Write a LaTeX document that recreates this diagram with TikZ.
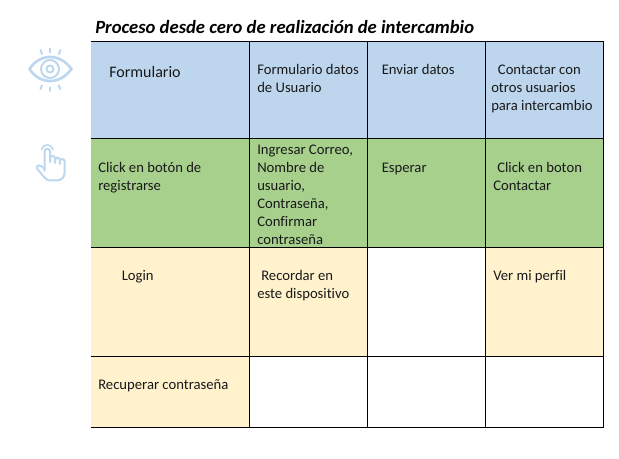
\documentclass[tikz,border=0pt]{standalone}
\usepackage{fontspec}
\setmainfont{Carlito}[Ligatures=NoCommon]
\definecolor{cellblue}{RGB}{189, 214, 238}
\definecolor{cellgreen}{RGB}{168, 208, 141}
\definecolor{cellcream}{RGB}{255, 242, 204}
\definecolor{iconblue}{RGB}{189, 215, 238}
\tikzset{
    celltext/.style={anchor=base west, inner sep=0pt, align=left, text=black!90,
        font=\fontsize{11pt}{13.5pt}\selectfont},
    icon/.style={draw=iconblue, line width=1.5pt, line cap=round, line join=round},
}
\begin{document}
\begin{tikzpicture}[x=0.75pt, y=-0.75pt]
    \useasboundingbox (0.0, 0.0) rectangle (619.0, 459.0);
    % cell backgrounds
    \fill[cellblue]   ( 91.0,  41.5) rectangle (603.5, 139.0);
    \fill[cellgreen]  ( 91.0, 139.0) rectangle (603.5, 247.5);
    \fill[cellcream]  ( 91.0, 247.5) rectangle (367.5, 356.5);
    \fill[cellcream]  (485.5, 247.5) rectangle (603.5, 356.5);
    \fill[cellcream]  ( 91.0, 356.5) rectangle (249.5, 427.5);
    % rules
    \foreach \ypos in {41.5, 139.0, 247.5, 356.5, 427.5}
        \draw[black, line width=0.75pt] (91.0, \ypos) -- (603.5, \ypos);
    \foreach \xpos in {249.5, 367.5, 485.5, 603.5}
        \draw[black, line width=0.75pt] (\xpos, 41.5) -- (\xpos, 427.5);
    % title
    \node[anchor=base west, inner sep=0pt, font=\fontsize{14pt}{16pt}\selectfont\bfseries\itshape] (title) at (95.0, 33.5)
        {Proceso desde cero de realización de intercambio};
    % row one
    \node[celltext, font=\fontsize{12pt}{14pt}\selectfont] (formulario) at (109.0, 77.5) {Formulario};
    \node[celltext] (datos)      at (257.0, 93.0) {Formulario datos\\de Usuario};
    \node[celltext] (enviar)     at (381.5, 75.0) {Enviar datos};
    \node[celltext] (contactar)  at (491.0, 111.0) {\hspace*{5pt}Contactar con\\otros usuarios\\para intercambio};
    % row two
    \node[celltext] (click)      at ( 98.0, 191.0) {Click en botón de\\registrarse};
    \node[celltext] (ingresar)   at (257.0, 245.0) {Ingresar Correo,\\Nombre de\\usuario,\\Contraseña,\\Confirmar\\contraseña};
    \node[celltext] (esperar)    at (381.5, 173.0) {Esperar};
    \node[celltext] (boton)      at (493.0, 191.0) {\hspace*{3pt}Click en boton\\Contactar};
    % row three
    \node[celltext] (login)      at (121.5, 281.0) {Login};
    \node[celltext] (recordar)   at (257.0, 299.0) {\hspace*{3pt}Recordar en\\este dispositivo};
    \node[celltext] (perfil)     at (493.0, 281.0) {Ver mi perfil};
    % row four
    \node[celltext] (recuperar)  at ( 98.0, 390.0) {Recuperar contraseña};
    % eye icon
    \draw[icon, line width=2pt] (29.5, 69.0) .. controls (40.0, 53.0) and (60.0, 53.0) .. (71.5, 69.0)
                     .. controls (60.0, 85.0) and (40.0, 85.0) .. (29.5, 69.0) -- cycle;
    \draw[icon] (50.0, 69.0) circle (9.0);
    \draw[icon] (50.0, 69.0) circle (3.5);
    \draw[icon] (50.0, 48.5) -- (50.0, 52.5);
    \draw[icon] (40.5, 50.0) -- (42.0, 54.0);
    \draw[icon] (60.5, 50.0) -- (59.0, 54.0);
    \draw[icon] (50.0, 87.5) -- (50.0, 91.0);
    \draw[icon] (40.5, 89.0) -- (42.0, 85.5);
    \draw[icon] (60.5, 89.0) -- (58.5, 85.5);
    % hand icon
    \draw[icon] (44.5, 171.0) -- (44.5, 151.5) arc[start angle=180, end angle=360, x radius=2.8, y radius=2.8] -- (50.1, 162.0);
    \draw[icon] (50.1, 158.5) arc[start angle=180, end angle=360, x radius=2.5, y radius=2.5] -- (55.1, 163.0);
    \draw[icon] (55.1, 160.0) arc[start angle=180, end angle=360, x radius=2.4, y radius=2.4] -- (59.9, 164.0);
    \draw[icon] (59.9, 161.5) arc[start angle=180, end angle=360, x radius=2.4, y radius=2.4] -- (64.7, 172.0)
        .. controls (64.7, 178.0) and (61.0, 180.5) .. (56.0, 180.5) -- (50.5, 180.5)
        .. controls (46.0, 180.5) and (45.0, 178.0) .. (37.0, 168.5)
        .. controls (36.0, 165.0) and (40.0, 163.5) .. (44.5, 169.0);
    \draw[icon, line width=1.2pt] (41.5, 149.5) arc[start angle=190, end angle=350, x radius=5.8, y radius=5.5];
\end{tikzpicture}
\end{document}
